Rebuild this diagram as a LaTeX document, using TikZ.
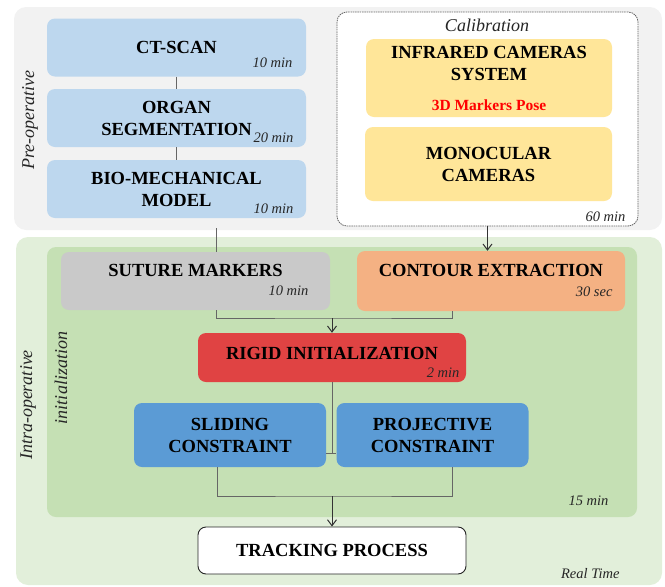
\documentclass[tikz,border=0pt]{standalone}
\usepackage{fontspec}
\setmainfont{Liberation Serif}
\usepackage{tikz}
\usetikzlibrary{arrows.meta}

\definecolor{preop}{HTML}{F2F2F2}
\definecolor{ctblue}{HTML}{BDD7EE}
\definecolor{camyellow}{HTML}{FFE699}
\definecolor{intraout}{HTML}{E2EFDA}
\definecolor{intrain}{HTML}{C5E0B4}
\definecolor{sutgray}{HTML}{C9C9C9}
\definecolor{contorange}{HTML}{F4B183}
\definecolor{rigidred}{HTML}{E04343}
\definecolor{constblue}{HTML}{5B9BD5}

\begin{document}
\begin{tikzpicture}[x=1pt,y=-1pt,>={Straight Barb[length=6pt,width=9pt]},
  panel/.style={rounded corners=12,inner sep=0},
  box/.style={rounded corners=8,inner sep=0,align=center,
    font=\bfseries\fontsize{18.5}{22}\selectfont},
  mins/.style={anchor=east,text=black!85,font=\itshape\fontsize{14.5}{16}\selectfont},
  side/.style={rotate=90,text=black!85,font=\itshape\fontsize{18}{20}\selectfont},
  link/.style={draw=black!60,line width=0.8},
  flow/.style={draw=black!80,line width=1,->}]

\useasboundingbox (0,0) rectangle (665,587);

% pre-operative part
\node[panel,fill=preop,minimum width=648,minimum height=223] (prepanel) at (338,118.5) {};
\node[side] (pretxt) at (30,120) {Pre-operative};

\begin{scope}[every node/.style={box,fill=ctblue,minimum width=259,minimum height=58}]
\node (ct) at (176.5,47.5) {CT-SCAN};
\node (organ) at (176.5,118) {ORGAN\\SEGMENTATION};
\node (bio) at (176.5,189) {BIO-MECHANICAL\\MODEL};
\end{scope}
\foreach \a/\b in {ct/organ,organ/bio}
{
\draw[link] (\a) -- (\b);
}
\node[mins] (ctmin) at (296,63) {10 min};
\node[mins] (organmin) at (297,138) {20 min};
\node[mins] (biomin) at (297,209) {10 min};

% calibration
\node[panel,rounded corners=10,fill=white,draw=black!60,
  dash pattern=on 1.5pt off 0.8pt,line width=0.8,
  minimum width=301,minimum height=214] (calib) at (487.5,119) {};
\node[text=black!85,font=\itshape\fontsize{18}{20}\selectfont] (calibtxt) at (487,25) {Calibration};
\node[box,fill=camyellow,minimum width=246,minimum height=78] (infra) at (489,78)
  {INFRARED CAMERAS\\SYSTEM\\[8pt]{\color{red}\fontsize{15.5}{18}\selectfont 3D Markers Pose}};
\node[box,fill=camyellow,minimum width=247,minimum height=74] (mono) at (488.5,164)
  {MONOCULAR\\CAMERAS};
\node[mins] (calibmin) at (629,217) {60 min};

% intra-operative part
\node[panel,fill=intraout,minimum width=646,minimum height=348] (intrapanel) at (339,411) {};
\node[panel,rounded corners=9,fill=intrain,minimum width=590,minimum height=270] (initpanel) at (342,382) {};
\node[side] (intratxt) at (28,405) {Intra-operative};
\node[side] (inittxt) at (61,378) {initialization};

\node[box,fill=sutgray,minimum width=269,minimum height=58,text height=13,text depth=22] (suture) at (195.5,281) {SUTURE MARKERS};
\node[box,fill=contorange,minimum width=268,minimum height=60,text height=13,text depth=22] (contour) at (491,281) {CONTOUR EXTRACTION};
\node[box,fill=rigidred,minimum width=268,minimum height=49,text height=13,text depth=9] (rigid) at (332,357.5) {RIGID INITIALIZATION};
\node[mins] (sutmin) at (312,291) {10 min};
\node[mins] (contmin) at (616,292) {30 sec};
\node[mins] (rigidmin) at (463,373) {2 min};

\begin{scope}[every node/.style={box,fill=constblue,minimum width=192,minimum height=64}]
\node (sliding) at (230,435) {SLIDING\\CONSTRAINT};
\node (projective) at (432.5,435) {PROJECTIVE\\CONSTRAINT};
\end{scope}

\node[box,fill=white,draw=black!85,line width=0.9,minimum width=268,minimum height=47] (tracking) at (332,550.5) {TRACKING PROCESS};
\node[mins] (initmin) at (612,501) {15 min};
\node[mins] (rtmin) at (623,574) {Real Time};

% connectors
\coordinate (bioout) at (216,228);
\draw[link] (bioout) -- (bioout |- suture.north);
\draw[flow] (calib.south) -- (calib.south |- contour.north);

\coordinate (jn1) at (332,318);
\draw[link] ([xshift=20.5]suture.south) |- (jn1) -| ([xshift=-39]contour.south);
\draw[flow] (jn1) -- (rigid.north);

\coordinate (jn2) at (332,453);
\draw[link] (rigid.south) -- (jn2);
\draw[link] (jn2 -| sliding.east) -- (jn2 -| projective.west);

\coordinate (jn3) at (332,496);
\draw[link] ([xshift=-13]sliding.south) |- (jn3) -| ([xshift=19.5]projective.south);
\draw[flow] (jn3) -- (tracking.north);

\end{tikzpicture}
\end{document}
